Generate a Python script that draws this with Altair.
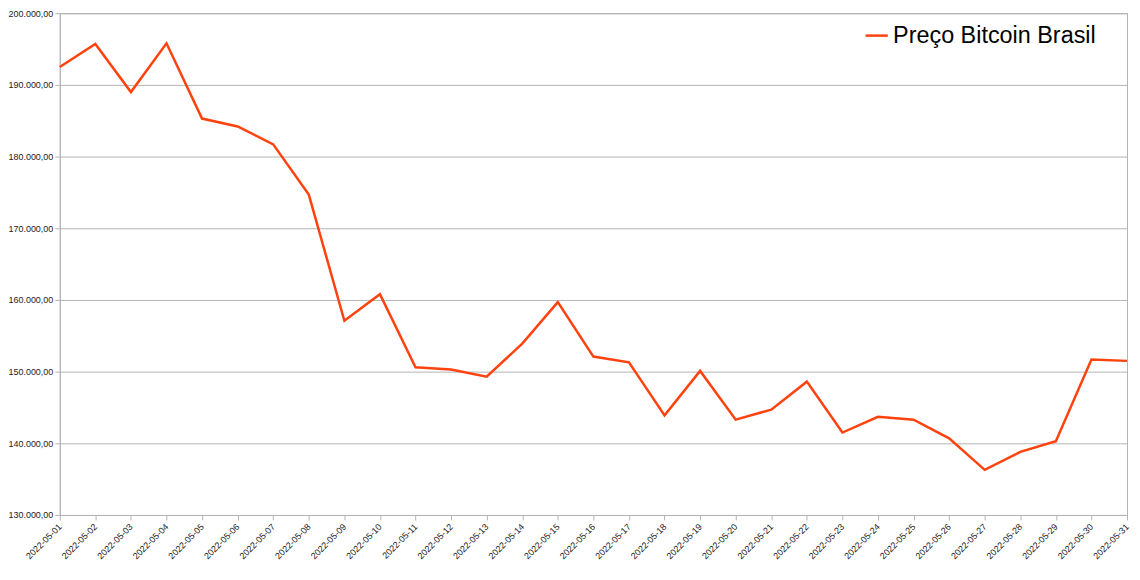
import altair as alt
import pandas as pd

dates = [f"2022-05-{d:02d}" for d in range(1, 32)]
prices = [192500, 195700, 189000, 195800, 185300, 184200, 181700, 174700,
          157100, 160800, 150600, 150300, 149300, 153900, 159700, 152100,
          151300, 143900, 150100, 143300, 144700, 148600, 141500, 143700,
          143300, 140700, 136300, 138800, 140300, 151700, 151500]
series = "Preço Bitcoin Brasil"
y_ticks = [130000, 140000, 150000, 160000, 170000, 180000, 190000, 200000]

df = pd.DataFrame({"date": dates, "price": prices, "serie": series})

chart = alt.Chart(df).mark_line(strokeWidth=2.5).encode(
    x=alt.X("date:O", scale=alt.Scale(type="point", padding=0),
            axis=alt.Axis(title=None, labelAngle=-45, labelFontSize=9,
                          labelFont="Liberation Sans", labelColor="#222",
                          tickColor="#b3b3b3", domainColor="#b3b3b3",
                          tickSize=5, grid=False, labelPadding=2, labelOffset=-3)),
    y=alt.Y("price:Q", scale=alt.Scale(domain=[130000, 200000], nice=False, zero=False),
            axis=alt.Axis(title=None, values=y_ticks, format=",.2f", labelFontSize=9,
                          labelFont="Liberation Sans", labelColor="#222",
                          tickColor="#b3b3b3", domainColor="#b3b3b3", gridColor="#b3b3b3",
                          tickSize=5, labelPadding=2)),
    color=alt.Color("serie:N", scale=alt.Scale(range=["#ff420e"]),
                    legend=alt.Legend(title=None, orient="none", legendX=808, legendY=10,
                                      symbolType="stroke", symbolStrokeWidth=2.5,
                                      symbolSize=500, labelFontSize=23.5,
                                      labelFont="Liberation Sans", labelColor="#000",
                                      labelLimit=400))
).properties(
    width=1072, height=504,
    autosize="none",
    padding={"left": 52, "top": 4, "right": 5, "bottom": 50}
).configure_view(stroke="#b3b3b3", strokeWidth=1)

chart.save("out.html", embed_options={"renderer": "svg", "actions": False,
                                      "formatLocale": {"decimal": ",", "thousands": ".",
                                                       "grouping": [3], "currency": ["R$", ""]}})
